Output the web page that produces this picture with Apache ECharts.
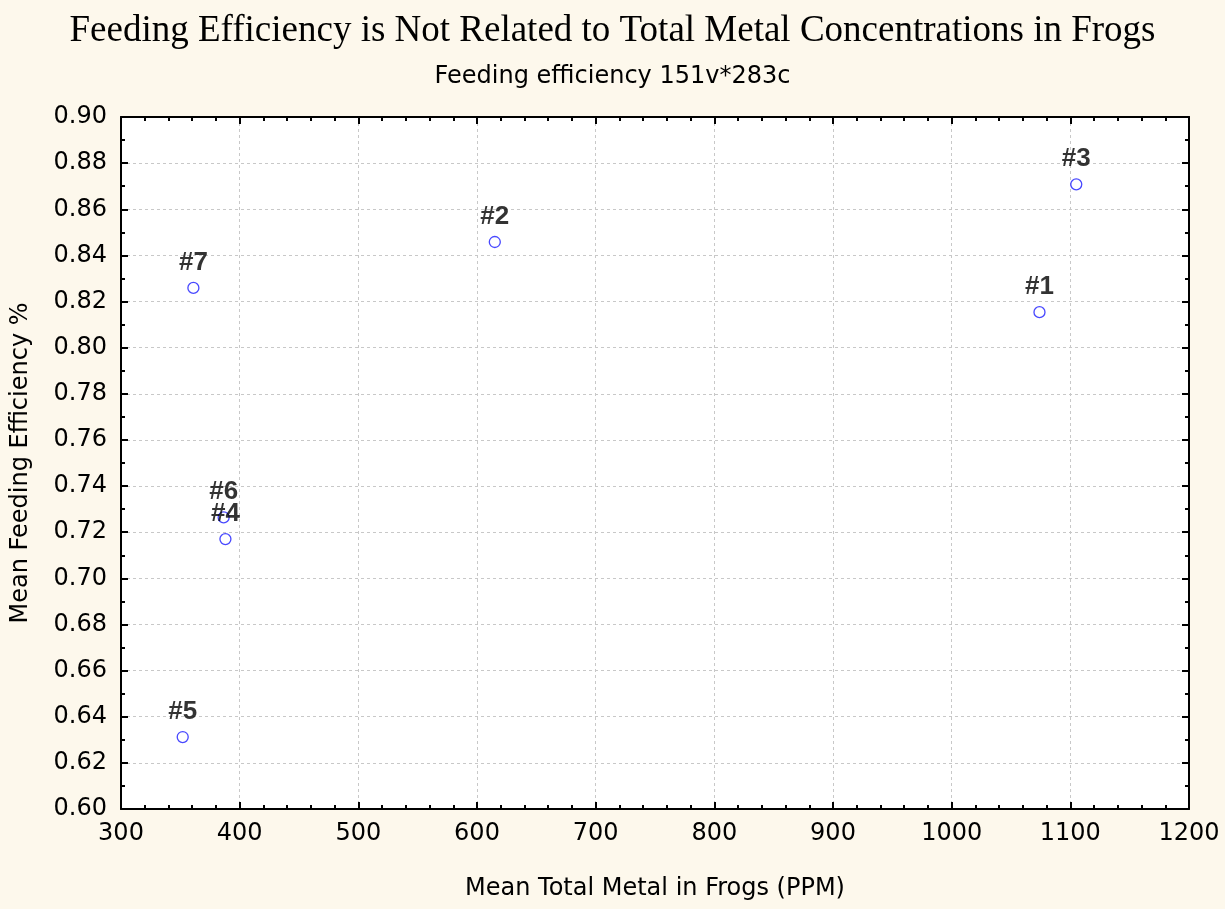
<!DOCTYPE html>
<html>
<head>
<meta charset="utf-8">
<script src="https://cdn.jsdelivr.net/npm/echarts@6/dist/echarts.min.js"></script>
<style>
  html, body { margin: 0; padding: 0; background: #fdf8ec; }
  #chart { width: 1225px; height: 909px; }
</style>
</head>
<body>
<div id="chart"></div>
<script>
// Frog sites: mean total metal (PPM) vs mean feeding efficiency
const siteLabels = ['#1', '#2', '#3', '#4', '#5', '#6', '#7'];
const metalPPM = [1074, 615, 1105, 388, 352, 386.5, 361];
const feedingEff = [0.8154, 0.8458, 0.8708, 0.7170, 0.6312, 0.7264, 0.8259];

const xMin = 300, xMax = 1200, xStep = 100;
const yMin = 0.60, yMax = 0.90, yStep = 0.02;

const points = siteLabels.map((name, i) => ({ name, value: [metalPPM[i], feedingEff[i]] }));

const chart = echarts.init(document.getElementById('chart'), null, { renderer: 'canvas' });

const sans = 'DejaVu Sans';
const axisLine = { show: true, lineStyle: { color: '#000', width: 2 } };
const majorTick = { show: true, inside: true, length: 7, lineStyle: { color: '#000', width: 2 } };
const gridSplit = { show: true, lineStyle: { color: '#c8c8c8', type: [3, 3], width: 1 } };

chart.setOption({
  backgroundColor: '#fdf8ec',
  animation: false,
  title: [
    {
      text: 'Feeding Efficiency is Not Related to Total Metal Concentrations in Frogs',
      left: 'center', top: 8,
      textStyle: { fontFamily: 'Liberation Serif', fontSize: 37, fontWeight: 'normal', color: '#000' }
    },
    {
      text: 'Feeding efficiency 151v*283c',
      left: 'center', top: 60,
      textStyle: { fontFamily: sans, fontSize: 24, fontWeight: 'normal', color: '#000' }
    }
  ],
  grid: { left: 121, right: 36, top: 117, bottom: 100, backgroundColor: '#fff', show: true, borderWidth: 0 },
  xAxis: [
    {
      type: 'value', min: xMin, max: xMax, interval: xStep,
      name: 'Mean Total Metal in Frogs (PPM)', nameLocation: 'middle', nameGap: 68,
      nameTextStyle: { fontFamily: sans, fontSize: 24, color: '#000' },
      axisLine,
      axisTick: majorTick,
      minorTick: { show: true, splitNumber: 5, length: 4, lineStyle: { color: '#000', width: 2 } },
      axisLabel: { fontFamily: sans, fontSize: 24, color: '#000', margin: 13, formatter: v => String(v) },
      splitLine: gridSplit
    },
    {
      type: 'value', min: xMin, max: xMax, interval: xStep, position: 'top',
      axisLine,
      axisTick: majorTick,
      minorTick: { show: true, splitNumber: 5, length: 4, lineStyle: { color: '#000', width: 2 } },
      axisLabel: { show: false },
      splitLine: { show: false }
    }
  ],
  yAxis: [
    {
      type: 'value', min: yMin, max: yMax, interval: yStep,
      name: 'Mean Feeding Efficiency %', nameLocation: 'middle', nameGap: 88,
      nameTextStyle: { fontFamily: sans, fontSize: 24, color: '#000' },
      axisLine,
      axisTick: majorTick,
      minorTick: { show: true, splitNumber: 2, length: 4, lineStyle: { color: '#000', width: 2 } },
      axisLabel: {
        fontFamily: sans, fontSize: 24, color: '#000', margin: 14,
        formatter: v => v.toFixed(2)
      },
      splitLine: gridSplit
    },
    {
      type: 'value', min: yMin, max: yMax, interval: yStep, position: 'right',
      axisLine,
      axisTick: majorTick,
      minorTick: { show: true, splitNumber: 2, length: 4, lineStyle: { color: '#000', width: 2 } },
      axisLabel: { show: false },
      splitLine: { show: false }
    }
  ],
  series: [{
    type: 'scatter',
    xAxisIndex: 0, yAxisIndex: 0,
    data: points,
    symbol: 'circle',
    symbolSize: 11,
    itemStyle: { color: '#fff', borderColor: '#1a1aff', borderWidth: 1.3 },
    label: {
      show: true, position: 'top', distance: 6,
      formatter: p => p.name,
      fontFamily: 'Liberation Sans', fontSize: 26, fontWeight: 'bold', color: '#000'
    },
    emphasis: { disabled: true },
    z: 5
  }]
});
</script>
</body>
</html>
